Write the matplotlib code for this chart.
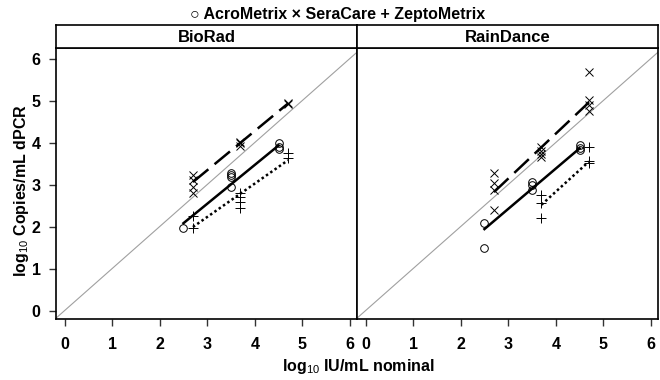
import matplotlib
matplotlib.use("Agg")
import matplotlib.pyplot as plt

plt.rcParams['font.family'] = ['Liberation Sans', 'DejaVu Sans']
plt.rcParams['mathtext.fontset'] = 'custom'
plt.rcParams['mathtext.rm'] = 'Liberation Sans'
plt.rcParams['mathtext.it'] = 'Liberation Sans:italic'
plt.rcParams['mathtext.bf'] = 'Liberation Sans:bold'

#%% data
panels = ["BioRad", "RainDance"]
ticks = [0, 1, 2, 3, 4, 5, 6]

# BioRad
acro_bio_x = [2.5, 3.5, 3.5, 3.5, 3.5, 4.5, 4.5, 4.5]
acro_bio_y = [1.97, 3.27, 3.22, 3.17, 2.93, 4.00, 3.90, 3.85]
sera_bio_x = [2.7, 2.7, 2.7, 2.7, 3.7, 3.7, 3.7, 4.7, 4.7]
sera_bio_y = [3.22, 3.12, 2.93, 2.81, 4.02, 4.00, 3.92, 4.95, 4.92]
zepto_bio_x = [2.7, 2.7, 3.7, 3.7, 3.7, 3.7, 4.7, 4.7]
zepto_bio_y = [2.25, 1.96, 2.81, 2.71, 2.59, 2.45, 3.75, 3.63]

# RainDance
acro_rain_x = [2.5, 2.5, 3.5, 3.5, 3.5, 4.5, 4.5, 4.5]
acro_rain_y = [2.08, 1.48, 3.07, 2.98, 2.86, 3.95, 3.87, 3.83]
sera_rain_x = [2.7, 2.7, 2.7, 2.7, 3.7, 3.7, 3.7, 3.7, 4.7, 4.7, 4.7, 4.7]
sera_rain_y = [3.27, 3.03, 2.86, 2.40, 3.90, 3.80, 3.72, 3.65, 5.68, 5.01, 4.90, 4.75]
zepto_rain_x = [3.7, 3.7, 3.7, 4.7, 4.7, 4.7]
zepto_rain_y = [2.76, 2.57, 2.20, 3.90, 3.56, 3.51]

# fitted lines: x range and fitted y at each end
acro_fit_x = [2.5, 4.5]
sera_fit_x = [2.7, 4.7]
zepto_fit_x_bio = [2.7, 4.7]
zepto_fit_x_rain = [3.7, 4.7]
acro_fit_bio = [2.08, 3.93]
sera_fit_bio = [3.06, 4.93]
zepto_fit_bio = [1.99, 3.58]
acro_fit_rain = [1.94, 3.86]
sera_fit_rain = [2.82, 4.96]
zepto_fit_rain = [2.52, 3.55]

#%% layout
fig = plt.figure(figsize=(6.6, 3.8), dpi=100)
left0, w, bot, h = 56 / 660, 301 / 660, 1 - 319 / 380, 271 / 380
strip_h = 23 / 380

data = {
    "BioRad": [(acro_bio_x, acro_bio_y), (sera_bio_x, sera_bio_y), (zepto_bio_x, zepto_bio_y)],
    "RainDance": [(acro_rain_x, acro_rain_y), (sera_rain_x, sera_rain_y), (zepto_rain_x, zepto_rain_y)],
}
fits = {
    "BioRad": [(acro_fit_x, acro_fit_bio), (sera_fit_x, sera_fit_bio), (zepto_fit_x_bio, zepto_fit_bio)],
    "RainDance": [(acro_fit_x, acro_fit_rain), (sera_fit_x, sera_fit_rain), (zepto_fit_x_rain, zepto_fit_rain)],
}
markers = [dict(marker='o', ms=5.5, mfc='none'), dict(marker='x', ms=5.5), dict(marker='+', ms=6.5)]
styles = [dict(ls='-'), dict(ls=(0, (8, 3.2))), dict(ls=(0, (1, 1.1)))]

for i, name in enumerate(panels):
    ax = fig.add_axes([left0 + i * w, bot, w, h])
    ax.plot([-1, 7], [-1, 7], color='#a0a0a0', lw=0.8, zorder=1)
    for (xs, ys), m in zip(data[name], markers):
        ax.plot(xs, ys, ls='none', color='black', mec='black', mew=0.7, zorder=3, **m)
    for (xs, ys), s in zip(fits[name], styles):
        ax.plot(xs, ys, color='black', lw=1.8, zorder=2, **s)
    ax.set_xlim(-0.18, 6.15)
    ax.set_ylim(-0.2, 6.25)
    ax.set_xticks(ticks)
    ax.set_xticklabels([str(t) for t in ticks], fontweight='bold', fontsize=11.5)
    ax.tick_params(axis='x', direction='out', length=5, width=1, color='#333333', pad=8)
    ax.tick_params(axis='y', direction='out', length=5, width=1, color='#333333', pad=6)
    if i == 0:
        ax.set_yticks(ticks)
        ax.set_yticklabels([str(t) for t in ticks], fontweight='bold', fontsize=11.5)
    else:
        ax.set_yticks([])
    for sp in ax.spines.values():
        sp.set_linewidth(1.2)

    sax = fig.add_axes([left0 + i * w, bot + h, w, strip_h])
    sax.set_xticks([])
    sax.set_yticks([])
    for sp in sax.spines.values():
        sp.set_linewidth(1.2)
    sax.text(0.5, 0.45, name, ha='center', va='center', fontweight='bold', fontsize=12,
             transform=sax.transAxes)

fig.text(338 / 660, 1 - 15 / 380, "\u25cb AcroMetrix \u00d7 SeraCare + ZeptoMetrix",
         ha='center', va='center', fontweight='bold', fontsize=11.5,
         family=['Liberation Sans', 'DejaVu Sans'])
fig.text(358 / 660, 1 - 366 / 380, r"log$_{10}$ IU/mL nominal", ha='center', va='center',
         fontweight='bold', fontsize=11.5)
fig.text(22 / 660, 0.5, r"log$_{10}$ Copies/mL dPCR", ha='center', va='center',
         rotation=90, fontweight='bold', fontsize=11.5)

fig.savefig("out.png", dpi=100)
